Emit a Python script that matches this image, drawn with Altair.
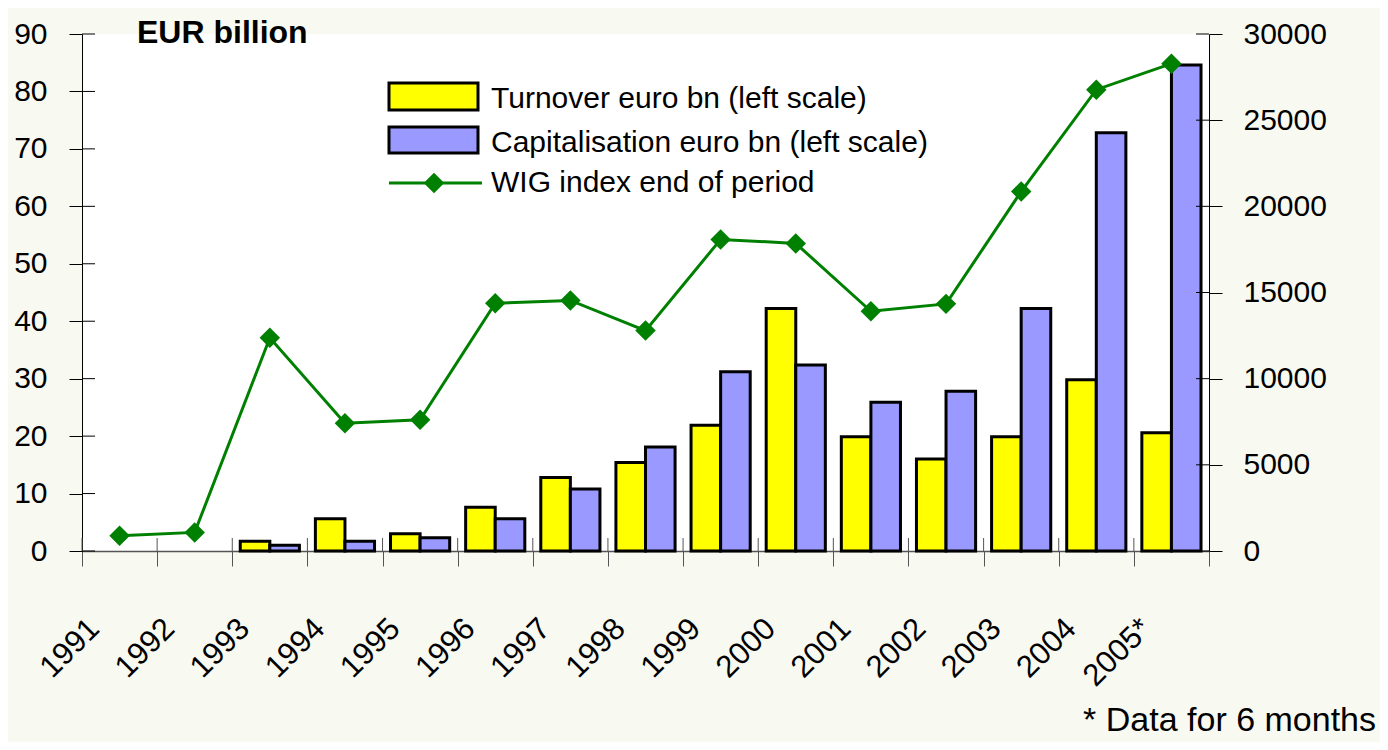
import altair as alt
import pandas as pd

years = ["1991", "1992", "1993", "1994", "1995", "1996", "1997", "1998",
         "1999", "2000", "2001", "2002", "2003", "2004", "2005*"]
turnover = [None, None, 1.7, 5.6, 3.0, 7.6, 12.8, 15.4, 21.9, 42.2, 19.9, 16.0, 19.9, 29.8, 20.6]
capital = [None, None, 1.0, 1.7, 2.3, 5.6, 10.8, 18.1, 31.2, 32.4, 25.9, 27.8, 42.2, 72.8, 84.6]
wig = [890, 1080, 12370, 7410, 7610, 14380, 14540, 12790, 18080, 17850, 13910, 14340, 20860, 26770, 28280]

series_names = ["Turnover euro bn (left scale)", "Capitalisation euro bn (left scale)"]
wig_name = "WIG index  end of period"
left_ticks = [0, 10, 20, 30, 40, 50, 60, 70, 80, 90]
right_ticks = [0, 5000, 10000, 15000, 20000, 25000, 30000]

rows = []
for y, t, c in zip(years, turnover, capital):
    if t is not None:
        rows.append({"year": y, "series": series_names[0], "value": t})
    if c is not None:
        rows.append({"year": y, "series": series_names[1], "value": c})
bars_df = pd.DataFrame(rows)
wig_df = pd.DataFrame({"year": years, "wig": wig})
years_df = pd.DataFrame({"year": years})
lt_df = pd.DataFrame({"v": left_ticks})
rt_df = pd.DataFrame({"v": right_ticks})
one = pd.DataFrame({"a": [0]})

W, H = 1127, 517
FONT = "Liberation Sans"

xscale = alt.Scale(domain=years, paddingInner=0, paddingOuter=0)
xaxis = alt.Axis(title=None, tickBand="extent", tickSize=15, tickColor="#555555",
                 domainColor="#555555", domainWidth=1.5, labelAngle=-45, labelAlign="right",
                 labelBaseline="top", labelOffset=-36, labelPadding=47,
                 labelFont=FONT, labelFontSize=31, labelColor="black", grid=False)
lscale = alt.Scale(domain=[0, 90], nice=False, zero=True)
laxis = alt.Axis(title=None, orient="left", values=left_ticks, tickSize=13, tickColor="black",
                 domainColor="black", labelFont=FONT, labelFontSize=30, labelColor="black",
                 labelPadding=22, grid=False)
rscale = alt.Scale(domain=[0, 30000], nice=False, zero=True)
raxis = alt.Axis(title=None, orient="right", values=right_ticks, tickSize=13, tickColor="black",
                 domainColor="black", labelFont=FONT, labelFontSize=30, labelColor="black",
                 labelPadding=21, grid=False, format="d")

bars = alt.Chart(bars_df).mark_bar(stroke="black", strokeWidth=3).encode(
    x=alt.X("year:N", scale=xscale, axis=xaxis),
    xOffset=alt.XOffset("series:N", sort=series_names,
                        scale=alt.Scale(domain=series_names, paddingInner=0, paddingOuter=0.27)),
    y=alt.Y("value:Q", scale=lscale, axis=laxis),
    color=alt.Color("series:N", scale=alt.Scale(domain=series_names, range=["#FFFF00", "#9999FF"]),
                    legend=None),
)
ltick_in = alt.Chart(lt_df).mark_rule(color="black", strokeWidth=1).encode(
    y=alt.Y("v:Q", scale=lscale, axis=laxis), x=alt.value(0), x2=alt.value(13))
xtick_in = alt.Chart(years_df).mark_rule(color="#555555", strokeWidth=1).encode(
    x=alt.X("year:N", scale=xscale, axis=xaxis, bandPosition=0),
    y=alt.value(H - 13), y2=alt.value(H))
left_group = alt.layer(bars, ltick_in, xtick_in)

line = alt.Chart(wig_df).mark_line(color="#008000", strokeWidth=3).encode(
    x=alt.X("year:N", scale=xscale, axis=xaxis),
    y=alt.Y("wig:Q", scale=rscale, axis=raxis))
pts = alt.Chart(wig_df).mark_point(shape="diamond", filled=True, size=420, color="#008000",
                                   opacity=1).encode(
    x=alt.X("year:N", scale=xscale, axis=xaxis),
    y=alt.Y("wig:Q", scale=rscale, axis=raxis))
rtick_in = alt.Chart(rt_df).mark_rule(color="black", strokeWidth=1).encode(
    y=alt.Y("v:Q", scale=rscale, axis=raxis), x=alt.value(W - 13), x2=alt.value(W))
right_group = alt.layer(line, pts, rtick_in)

base1 = alt.Chart(one)
leg_y1 = base1.mark_rect(fill="#FFFF00", stroke="black", strokeWidth=3).encode(
    x=alt.value(307), x2=alt.value(396), y=alt.value(49), y2=alt.value(76))
leg_b1 = base1.mark_rect(fill="#9999FF", stroke="black", strokeWidth=3).encode(
    x=alt.value(307), x2=alt.value(396), y=alt.value(93), y2=alt.value(119))
leg_l = base1.mark_rule(color="#008000", strokeWidth=3).encode(
    x=alt.value(307), x2=alt.value(400), y=alt.value(149))
leg_p = base1.mark_point(shape="diamond", filled=True, size=420, color="#008000", opacity=1).encode(
    x=alt.value(352), y=alt.value(149))
leg_labels = [(series_names[0], 74), (series_names[1], 118), (wig_name, 158)]
leg_texts = [
    base1.mark_text(text=t, font=FONT, fontSize=30, align="left", baseline="alphabetic",
                    color="black").encode(x=alt.value(409), y=alt.value(yy))
    for t, yy in leg_labels
]
unit_txt = base1.mark_text(text="EUR billion", font=FONT, fontSize=32, fontWeight="bold",
                           align="left", baseline="alphabetic", color="black").encode(
    x=alt.value(55), y=alt.value(9))
foot_txt = base1.mark_text(text="* Data for 6 months", font=FONT, fontSize=34, align="right",
                           baseline="alphabetic", color="black").encode(
    x=alt.value(1294), y=alt.value(697))

chart = alt.layer(left_group, right_group, leg_y1, leg_b1, leg_l, leg_p, *leg_texts,
                  unit_txt, foot_txt).resolve_scale(y="independent").properties(
    width=W, height=H,
    autosize=alt.AutoSizeParams(type="none"),
    padding={"left": 74, "top": 26, "right": 171, "bottom": 191},
    background="#F8F9F0",
).configure_view(fill="white", stroke=None)

chart.save("out.html", embed_options={"renderer": "svg", "actions": False})
